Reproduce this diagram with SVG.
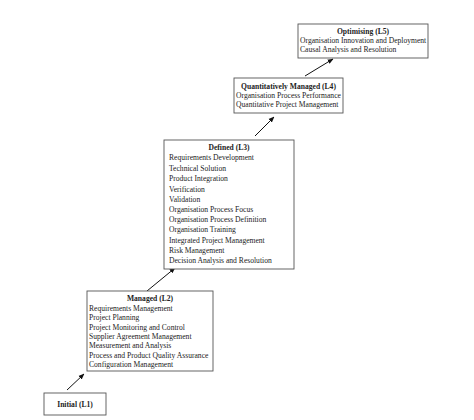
<svg xmlns="http://www.w3.org/2000/svg" width="474" height="420" viewBox="0 0 474 420">
<style>
.box{fill:#fff;stroke:#555;stroke-width:0.9}
text{font-family:"Liberation Serif","Times New Roman",serif;font-size:7.6px;fill:#222}
.t{font-weight:bold;text-anchor:middle}
.c{stroke:#111;stroke-width:1;fill:none}
</style>
<defs>
<marker id="ah" viewBox="0 0 10 10" refX="9" refY="5" markerWidth="6" markerHeight="6" orient="auto" markerUnits="userSpaceOnUse">
<path d="M0,1 L10,5 L0,9 z" fill="#111"/>
</marker>
</defs>
<rect width="474" height="420" fill="#fff"/>
<g id="connectors">
<line class="c" x1="67" y1="390" x2="84" y2="374" marker-end="url(#ah)"/>
<line class="c" x1="147" y1="291" x2="175" y2="268" marker-end="url(#ah)"/>
<line class="c" x1="255" y1="136" x2="274" y2="117" marker-end="url(#ah)"/>
<line class="c" x1="305" y1="76" x2="333" y2="59" marker-end="url(#ah)"/>
</g>
<g id="initial">
<rect class="box" x="44" y="393" width="62" height="22"/>
<text class="t" x="75" y="407">Initial (L1)</text>
</g>
<g id="managed">
<rect class="box" x="87" y="291" width="126" height="80"/>
<text class="t" x="150" y="300.5">Managed (L2)</text>
<text x="89" y="310.5">Requirements Management</text>
<text x="89" y="320">Project Planning</text>
<text x="89" y="329.7">Project Monitoring and Control</text>
<text x="89" y="338.8">Supplier Agreement Management</text>
<text x="89" y="348">Measurement and Analysis</text>
<text x="89" y="357.7">Process and Product Quality Assurance</text>
<text x="89" y="367">Configuration Management</text>
</g>
<g id="defined">
<rect class="box" x="164" y="140" width="130" height="129"/>
<text class="t" x="229" y="150">Defined (L3)</text>
<text x="169" y="160.4">Requirements Development</text>
<text x="169" y="170.7">Technical Solution</text>
<text x="169" y="181.3">Product Integration</text>
<text x="169" y="191.7">Verification</text>
<text x="169" y="201.8">Validation</text>
<text x="169" y="212">Organisation Process Focus</text>
<text x="169" y="222">Organisation Process Definition</text>
<text x="169" y="232.4">Organisation Training</text>
<text x="169" y="242.7">Integrated Project Management</text>
<text x="169" y="253">Risk Management</text>
<text x="169" y="263.4">Decision Analysis and Resolution</text>
</g>
<g id="quantitative">
<rect class="box" x="234" y="78" width="109" height="35"/>
<text class="t" x="288.5" y="88.5">Quantitatively Managed (L4)</text>
<text x="236" y="97.5">Organisation Process Performance</text>
<text x="236" y="107">Quantitative Project Management</text>
</g>
<g id="optimising">
<rect class="box" x="298" y="24" width="130" height="34"/>
<text class="t" x="363" y="33.5">Optimising (L5)</text>
<text x="300" y="42.8">Organisation Innovation and Deployment</text>
<text x="300" y="52">Causal Analysis and Resolution</text>
</g>
</svg>
